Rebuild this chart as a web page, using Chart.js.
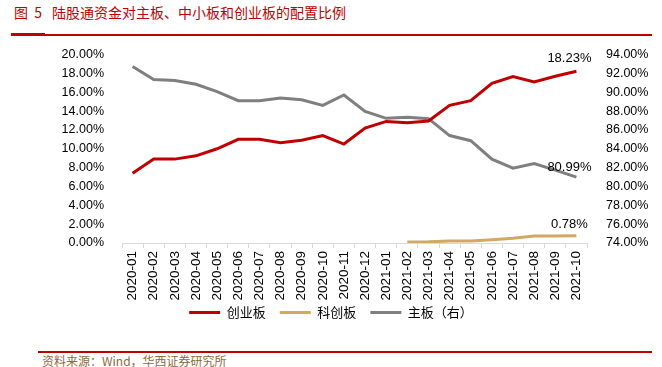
<!DOCTYPE html>
<html><head><meta charset="utf-8">
<script src="https://cdn.jsdelivr.net/npm/chart.js@4"></script>
<style>
html,body{margin:0;padding:0;background:#fff;width:662px;height:367px;overflow:hidden;position:relative;}
#title{position:absolute;left:14px;top:3px;font-family:"Noto Sans CJK SC";font-size:14px;color:#c00000;white-space:nowrap;line-height:18px;}
#title .n{display:inline-block;width:38px;}
#topline{position:absolute;left:11px;top:34px;width:641px;height:2px;background:#c00000;}
#topthick{position:absolute;left:11px;top:33px;width:34px;height:3px;background:#c00000;}
#botline{position:absolute;left:38px;top:351px;width:614px;height:2px;background:#c00000;}
#source{position:absolute;left:42px;top:353px;font-family:"Noto Sans CJK SC";font-size:12px;color:#8c6a3c;white-space:nowrap;line-height:16px;}
#wrap{position:absolute;left:0;top:36px;width:662px;height:298px;}
</style></head>
<body>
<div id="title"><span class="n">图&nbsp;&nbsp;5</span>陆股通资金对主板、中小板和创业板的配置比例</div>
<div id="topline"></div><div id="topthick"></div>
<div id="wrap"><canvas id="c"></canvas></div>
<div id="botline"></div>
<div id="source">资料来源：Wind，华西证券研究所</div>
<script>
const categories = ["2020-01","2020-02","2020-03","2020-04","2020-05","2020-06","2020-07","2020-08","2020-09","2020-10","2020-11","2020-12","2021-01","2021-02","2021-03","2021-04","2021-05","2021-06","2021-07","2021-08","2021-09","2021-10"];
const chinextShare = [7.41,8.90,8.90,9.25,10.00,11.00,11.00,10.64,10.90,11.40,10.50,12.20,12.90,12.77,12.94,14.60,15.10,16.95,17.66,17.10,17.70,18.23];
const starShare = [null,null,null,null,null,null,null,null,null,null,null,null,null,0.10,0.12,0.20,0.22,0.35,0.50,0.74,0.75,0.78];
const mainShare = [92.72,91.34,91.23,90.84,90.06,89.10,89.10,89.39,89.20,88.60,89.70,87.97,87.23,87.33,87.19,85.40,84.85,82.90,81.94,82.44,81.73,80.99];
const seriesNames = ["创业板","科创板","主板（右）"];

const fmt = v => v.toFixed(2) + '%';

const lastLabel = {
  id: 'lastLabel',
  afterDatasetsDraw(chart) {
    const ctx = chart.ctx;
    ctx.save();
    ctx.font = '13px "Liberation Sans"';
    ctx.fillStyle = '#000';
    ctx.textAlign = 'center';
    ctx.textBaseline = 'middle';
    chart.data.datasets.forEach((ds, i) => {
      const meta = chart.getDatasetMeta(i);
      const n = ds.data.length - 1;
      const pt = meta.data[n];
      const dy = i === 0 ? 13 : (i === 1 ? 11 : 10);
      ctx.fillText(fmt(ds.data[n]), pt.x - 7, pt.y - dy);
    });
    ctx.restore();
  }
};

new Chart(document.getElementById('c'), {
  type: 'line',
  data: {
    labels: categories,
    datasets: [
      {label: seriesNames[0], data: chinextShare, borderColor: '#c00000', backgroundColor: '#c00000', borderWidth: 3, pointRadius: 0, yAxisID: 'y', tension: 0},
      {label: seriesNames[1], data: starShare, borderColor: '#d4a864', backgroundColor: '#d4a864', borderWidth: 3, pointRadius: 0, yAxisID: 'y', tension: 0},
      {label: seriesNames[2], data: mainShare, borderColor: '#7f7f7f', backgroundColor: '#7f7f7f', borderWidth: 3, pointRadius: 0, yAxisID: 'y1', tension: 0}
    ]
  },
  options: {
    responsive: true,
    maintainAspectRatio: false,
    animation: false,
    layout: {padding: {left: 0, right: 0, top: 10, bottom: 5}},
    plugins: {
      tooltip: {enabled: false},
      legend: {
        position: 'bottom',
        labels: {
          usePointStyle: true,
          pointStyle: 'line',
          pointStyleWidth: 31,
          boxHeight: 13,
          padding: 5,
          color: '#000',
          font: {family: '"Noto Sans CJK SC"', size: 13},
          generateLabels: chart => {
            const items = Chart.defaults.plugins.legend.labels.generateLabels(chart);
            items.forEach((it, i) => { if (i < items.length - 1) it.text = it.text + '\u2002\u2009'; });
            return items;
          }
        }
      }
    },
    scales: {
      x: {
        offset: true,
        grid: {offset: true, drawOnChartArea: false, drawTicks: true, tickLength: 5, color: '#d9d9d9'},
        border: {color: '#d9d9d9'},
        ticks: {minRotation: 90, maxRotation: 90, autoSkip: false, padding: 3, color: '#000', font: {family: '"Liberation Sans"', size: 13.5}},
        afterFit: s => { s.height = 58; }
      },
      y: {
        position: 'left', min: 0, max: 20,
        grid: {display: false}, border: {display: false},
        ticks: {stepSize: 2, autoSkip: false, padding: 10, color: '#000', font: {family: '"Liberation Sans"', size: 12.5}, callback: v => fmt(v)},
        afterFit: s => { s.width = 122; }
      },
      y1: {
        position: 'right', min: 74, max: 94,
        grid: {display: false}, border: {display: false},
        ticks: {stepSize: 2, autoSkip: false, padding: 11, color: '#000', font: {family: '"Liberation Sans"', size: 12.5}, callback: v => fmt(v)},
        afterFit: s => { s.width = 75; }
      }
    }
  },
  plugins: [lastLabel]
});
</script>
</body></html>
